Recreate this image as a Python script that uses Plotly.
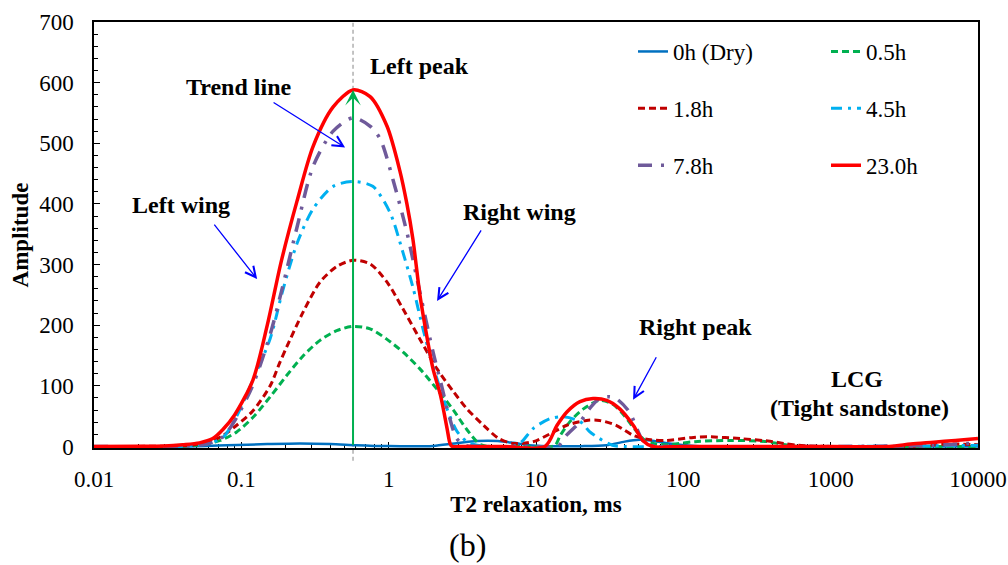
import math
import plotly.graph_objects as go

# ---- T2 spectra (T2 in ms, amplitude) for each saturation time ----
t2_0h = [0.01, 0.05, 0.08, 0.15, 0.25, 0.4, 0.6, 0.8, 1.2, 2.0, 2.8, 4.0, 5.5, 7.0, 9.0,
         12, 20, 30, 40, 50, 60, 80, 120, 200, 1000, 10000]
amp_0h = [0, 0.5, 2, 4, 5, 4, 2, 1, 0.5, 1, 5, 9, 9, 6, 2,
          0.5, 0.5, 2, 8, 11, 10, 5, 1, 0, 0, 0]

t2_05h = [0.01, 0.04, 0.055, 0.072, 0.093, 0.121, 0.157, 0.203, 0.264, 0.342, 0.444, 0.573,
          0.748, 0.97, 1.26, 1.63, 2.12, 2.75, 3.39, 4.2, 5.0, 8.0, 12.0, 13.5, 14.6, 17, 21,
          27, 33, 40, 47, 55, 65, 80, 120, 209, 370, 460, 600, 1000, 10000]
amp_05h = [0, 0.5, 3, 10, 24, 49, 82, 117, 150, 175, 191, 198,
           194, 177, 155, 128, 95, 60, 28, 3, 0, 0, 0, 2, 18, 41, 62,
           76, 70, 50, 28, 10, 4, 3, 8, 10, 8, 4, 0, 0, 0]

t2_18h = [0.01, 0.03, 0.045, 0.061, 0.075, 0.093, 0.12, 0.157, 0.18, 0.204, 0.263, 0.342,
          0.446, 0.573, 0.75, 0.975, 1.25, 1.63, 2.13, 2.76, 3.4, 4.4, 5.6, 7.0, 9.6, 12.5,
          16.2, 22, 27, 35, 46, 60, 77, 117, 145, 243, 405, 480, 600, 1000, 4000, 5000,
          7000, 10000]
amp_18h = [0, 0.5, 2, 8, 18, 35, 59, 100, 135, 165, 222, 271,
           297, 307, 301, 271, 227, 177, 128, 90, 62, 35, 13, 5, 8, 21,
           35, 43, 43, 35, 18, 11, 10, 15, 16, 13, 8, 5, 2, 0, 0, 3,
           4, 3]

t2_45h = [0.01, 0.04, 0.06, 0.075, 0.093, 0.12, 0.157, 0.19, 0.239, 0.307, 0.42, 0.573,
          0.78, 1.02, 1.25, 1.47, 1.71, 2.0, 2.49, 2.91, 3.4, 4.0, 5.0, 7.0, 8.0, 9.6, 12.5,
          15.2, 20, 23, 27, 33, 40, 100, 1000, 5000, 10000]
amp_45h = [0, 0.5, 5, 15, 50, 110, 178, 255, 335, 392, 429, 437,
           429, 386, 320, 260, 194, 133, 62, 25, 8, 2, 0, 0, 8, 30, 46,
           49, 41, 25, 13, 2, 0, 0, 0, 1, 2]

t2_78h = [0.01, 0.04, 0.06, 0.075, 0.093, 0.12, 0.157, 0.19, 0.239, 0.307, 0.42, 0.573,
          0.75, 0.88, 1.07, 1.33, 1.63, 2.0, 2.25, 2.6, 2.9, 3.3, 4.0, 10, 14, 16, 20, 23,
          27, 31, 35, 43, 53, 60, 80, 1000, 5000, 10000]
amp_78h = [0, 0.5, 5, 16, 48, 102, 185, 262, 362, 462, 520, 542,
           528, 506, 440, 353, 254, 156, 107, 46, 13, 2, 0, 0, 0, 18, 41, 62,
           79, 82, 79, 57, 10, 2, 0, 0, 2, 6]

t2_23h = [0.01, 0.02, 0.03, 0.04, 0.052, 0.064, 0.075, 0.09, 0.12, 0.15, 0.187, 0.239,
          0.307, 0.42, 0.573, 0.748, 0.975, 1.19, 1.33, 1.46, 1.63, 1.83, 2.0, 2.25, 2.49,
          2.61, 2.7, 3.0, 6.0, 11.5, 13.9, 16.2, 19.9, 24.4, 30.2, 37, 45.7, 53, 62, 100,
          1000, 2500, 3500, 5000, 7000, 10000]
amp_23h = [0, 0.3, 1, 3, 6, 13, 28, 52, 110, 200, 306, 405,
           495, 560, 588, 577, 528, 455, 400, 342, 250, 177, 128, 84, 30,
           5, 0, 0, 0, 0, 35, 57, 74, 79, 76, 62, 35, 10, 0, 0,
           0, 0, 4, 7, 10, 13]

series = [
    # name, x, y, colour, width, dash, legend
    ("0h (Dry)", t2_0h, amp_0h, "#0070C0", 2.5, "solid", "legend"),
    ("0.5h", t2_05h, amp_05h, "#00B050", 3, "7px,4px", "legend2"),
    ("1.8h", t2_18h, amp_18h, "#C00000", 3, "7px,4px", "legend"),
    ("4.5h", t2_45h, amp_45h, "#00B0F0", 3, "11px,6px,3px,6px", "legend2"),
    ("7.8h", t2_78h, amp_78h, "#6F5A9A", 3.5, "14px,9px,3px,9px", "legend"),
    ("23.0h", t2_23h, amp_23h, "#FF0000", 3.5, "solid", "legend2"),
]

# Axis ticks
x_tickvals = [0.01, 0.1, 1, 10, 100, 1000, 10000]
x_ticktext = ["0.01", "0.1", "1", "10", "100", "1000", "10000"]
x_minor = [m * 10 ** e for e in range(-2, 4) for m in range(2, 10)]
y_tickvals = [0, 100, 200, 300, 400, 500, 600, 700]

PEAK_T2 = 0.573      # position of the left (main) peak, ms
PEAK_AMP = 588       # amplitude of the 23.0h curve at the left peak

FONT = "Liberation Serif"

fig = go.Figure()
for name, x, y, color, width, dash, leg in series:
    fig.add_trace(go.Scatter(
        x=x, y=y, name=name, mode="lines",
        line=dict(color=color, width=width, dash=dash, shape="spline", smoothing=0.8),
        legend=leg, legendgroup=name, hoverinfo="skip",
    ))

# Gray dashed marker line through the left peak
fig.add_shape(type="line", xref="x", yref="paper", x0=PEAK_T2, x1=PEAK_T2,
              y0=-0.03, y1=1, line=dict(color="#888888", width=1, dash="4px,3px"),
              layer="below")

annotations = []

# Green trend arrow from the baseline up to the peak
annotations.append(dict(
    x=math.log10(PEAK_T2), y=PEAK_AMP, xref="x", yref="y",
    ax=math.log10(PEAK_T2), ay=0, axref="x", ayref="y",
    showarrow=True, arrowhead=3, arrowsize=1.3, arrowwidth=2, arrowcolor="#00B050", text="",
))

# Bold text labels: (text, T2 ms, amplitude)
labels = [
    ("Left peak", 1.63, 628),
    ("Trend line", 0.095, 592),
    ("Left wing", 0.039, 399),
    ("Right wing", 7.67, 386),
    ("Right peak", 120, 197),
    ("LCG", 1510, 111),
    ("(Tight sandstone)", 1580, 64),
]
for text, tx, ty in labels:
    annotations.append(dict(
        x=math.log10(tx), y=ty, xref="x", yref="y", text="<b>%s</b>" % text,
        showarrow=False, font=dict(family=FONT, size=24, color="black"),
    ))

# Blue pointer arrows: (T2 ms at tip, amplitude at tip, tail offset px)
pointers = [
    (0.506, 493, -73, -46),
    (0.128, 276, -44, -56),
    (2.13, 240, 45, -72),
    (45.6, 77, 24, -44),
]
for px, py, ax, ay in pointers:
    annotations.append(dict(
        x=math.log10(px), y=py, xref="x", yref="y", ax=ax, ay=ay,
        showarrow=True, arrowhead=5, arrowsize=1.6, arrowwidth=1.3, arrowcolor="#0000FF", text="",
    ))

# Panel label
annotations.append(dict(
    x=0.422, y=-0.228, xref="paper", yref="paper", xanchor="center", yanchor="middle",
    text="(b)", showarrow=False, font=dict(family=FONT, size=32, color="black"),
))

plot_l, plot_r, plot_t, plot_b = 94, 978, 22, 448
W, H = 1008, 565


def px_to_paper_x(px):
    return (px - plot_l) / (plot_r - plot_l)


def px_to_paper_y(py):
    return (plot_b - py) / (plot_b - plot_t)


legend_style = dict(
    xanchor="left", yanchor="top", bgcolor="rgba(0,0,0,0)", borderwidth=0,
    traceorder="grouped", tracegroupgap=24, itemwidth=30,
    font=dict(family=FONT, size=23, color="black"),
)

fig.update_layout(
    width=W, height=H,
    margin=dict(l=plot_l, r=W - plot_r, t=plot_t, b=H - plot_b, autoexpand=False),
    paper_bgcolor="white", plot_bgcolor="white",
    font=dict(family=FONT, size=23, color="black"),
    showlegend=True,
    legend=dict(x=px_to_paper_x(633), y=px_to_paper_y(30), **legend_style),
    legend2=dict(x=px_to_paper_x(826), y=px_to_paper_y(30), **legend_style),
    annotations=annotations,
    xaxis=dict(
        type="log", range=[-2, 4], tickvals=x_tickvals, ticktext=x_ticktext,
        ticks="inside", ticklen=6, tickwidth=1, tickcolor="black",
        minor=dict(tickvals=x_minor, ticks="inside", ticklen=4, tickwidth=1,
                   tickcolor="black", showgrid=False),
        showline=True, linecolor="black", linewidth=1.5, mirror=True,
        showgrid=False, zeroline=False, layer="below traces", automargin=False,
        ticklabelstandoff=10,
        tickfont=dict(family=FONT, size=23, color="black"),
        title=dict(text="<b>T2 relaxation, ms</b>", standoff=2,
                   font=dict(family=FONT, size=23, color="black")),
    ),
    yaxis=dict(
        range=[-2.5, 700], tickvals=y_tickvals,
        ticks="inside", ticklen=6, tickwidth=1, tickcolor="black",
        minor=dict(dtick=20, ticks="inside", ticklen=4, tickwidth=1,
                   tickcolor="black", showgrid=False),
        showline=True, linecolor="black", linewidth=1.5, mirror=True,
        showgrid=False, zeroline=False, layer="below traces", automargin=False,
        ticklabelstandoff=14,
        tickfont=dict(family=FONT, size=23, color="black"),
        title=dict(text="<b>Amplitude</b>", standoff=4,
                   font=dict(family=FONT, size=23, color="black")),
    ),
)

fig.write_html("out.html")
